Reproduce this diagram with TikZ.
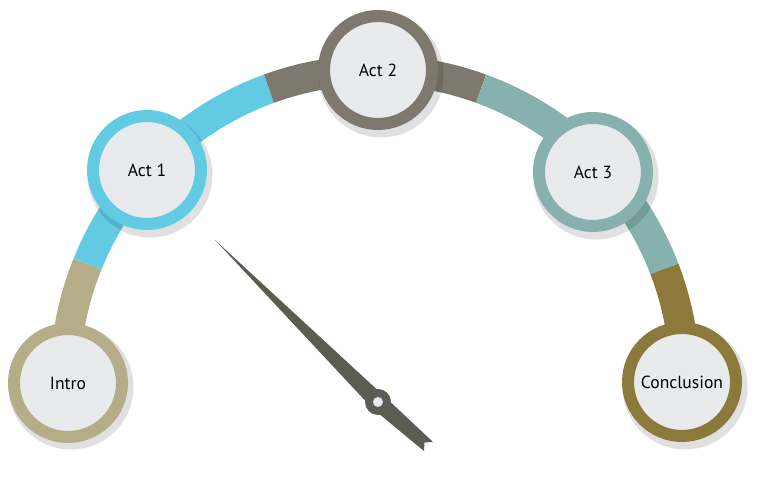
\documentclass[tikz,border=0pt]{standalone}
\usepackage{fontspec}
\setmainfont{PT Sans}
\definecolor{tanc}{HTML}{B5AD88}
\definecolor{bluec}{HTML}{62CBE3}
\definecolor{grayc}{HTML}{7F786E}
\definecolor{tealc}{HTML}{86B1AE}
\definecolor{olivec}{HTML}{8C7A3C}
\definecolor{facec}{HTML}{E8EAEC}
\definecolor{needlec}{HTML}{5C5C52}
\begin{document}
\begin{tikzpicture}[x=0.02cm, y=0.02cm,
    band/.style={line width=0.6cm},
    stage/.style={circle, draw, line width=0.24cm, fill=facec, minimum size=2.16cm, inner sep=0pt, font=\fontsize{10}{12}\selectfont},
    shade/.style={circle, fill=black, opacity=0.12, minimum size=2.5cm}
]
\useasboundingbox (0,0) rectangle (768,479);
\coordinate (c) at (375,99);

% band of the gauge
\draw[band, tanc]  ([shift={(180:310)}]c) arc (180:158:310);
\draw[band, bluec] ([shift={(158:310)}]c) arc (158:110:310);
\draw[band, grayc] ([shift={(110:310)}]c) arc (110:70:310);
\draw[band, tealc] ([shift={(70:310)}]c) arc (70:21:310);
\draw[band, olivec]([shift={(21:310)}]c) arc (21:0:310);

% shadows
\foreach \p in {(71,92),(150,304),(381,404),(596,302),(685,92)}
    \node[shade] at \p {};

% stages
\node[stage, draw=tanc]   (intro) at (68,96)  {Intro};
\node[stage, draw=bluec]  (act1)  at (147,309) {Act 1};
\node[stage, draw=grayc]  (act2)  at (378,409) {Act 2};
\node[stage, draw=tealc]  (act3)  at (593,307) {Act 3};
\node[stage, draw=olivec] (concl) at (682,97)  {Conclusion};

% needle
\coordinate (tip) at (215,239);
\coordinate (pivot) at (378,77);
\fill[needlec] (tip) -- (384,83) -- (433,37) -- (424.5,36.5) -- (424,28) -- (372,71) -- cycle;
\fill[needlec] (pivot) circle (13);
\fill[facec] (pivot) circle (5);
\end{tikzpicture}
\end{document}
